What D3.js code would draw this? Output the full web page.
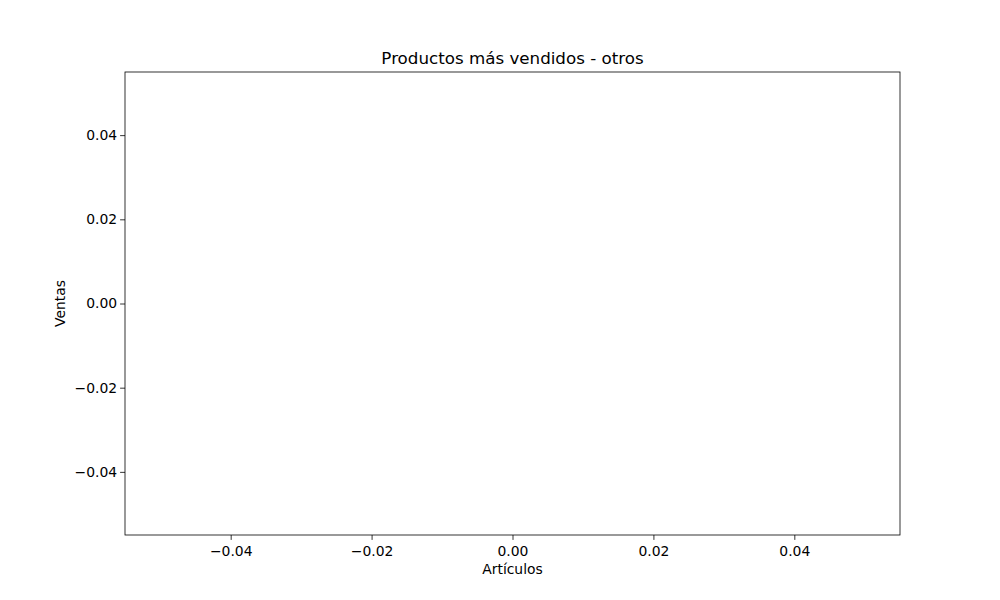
<!DOCTYPE html>
<html><head><meta charset="utf-8">
<script src="https://cdn.jsdelivr.net/npm/d3@7"></script>
<style>body{margin:0;background:#fff}text{font-family:"DejaVu Sans",sans-serif}</style>
</head><body>
<svg id="c" width="1000" height="600"></svg>
<script>
const categories = [];
const values = [];
const xTicks = [-0.04, -0.02, 0.00, 0.02, 0.04];
const yTicks = [-0.04, -0.02, 0.00, 0.02, 0.04];
const title = "Productos más vendidos - otros";
const xLabel = "Artículos";
const yLabel = "Ventas";

const svg = d3.select("#c");
const m = {l:125, r:900, t:72, b:535};
const x = d3.scaleLinear().domain([-0.055,0.055]).range([m.l,m.r]);
const y = d3.scaleLinear().domain([-0.055,0.055]).range([m.b,m.t]);
const fmt = v => d3.format(".2f")(v).replace("-","\u2212");

const gx = svg.append("g").attr("transform",`translate(0,${m.b})`)
  .call(d3.axisBottom(x).tickValues(xTicks).tickFormat(fmt).tickSize(4.9).tickSizeOuter(0));
const gy = svg.append("g").attr("transform",`translate(${m.l},0)`)
  .call(d3.axisLeft(y).tickValues(yTicks).tickFormat(fmt).tickSize(4.9).tickSizeOuter(0));
[gx,gy].forEach(g=>{g.select(".domain").remove();
  g.selectAll("text").attr("font-size",13.9).attr("fill","#000").style("font-family","DejaVu Sans");
  g.selectAll("line").attr("stroke","#000").attr("stroke-width",0.8);});
gx.selectAll("text").attr("dy","0.95em");

svg.selectAll("rect.bar").data(values).join("rect").attr("class","bar");

svg.append("rect").attr("x",m.l).attr("y",m.t).attr("width",m.r-m.l).attr("height",m.b-m.t)
  .attr("fill","none").attr("stroke","#000").attr("stroke-width",0.8);

svg.append("text").attr("x",(m.l+m.r)/2).attr("y",64).attr("text-anchor","middle")
  .attr("font-size",16.7).text(title);
svg.append("text").attr("x",(m.l+m.r)/2).attr("y",574).attr("text-anchor","middle")
  .attr("font-size",13.9).text(xLabel);
svg.append("text").attr("transform",`translate(65,${(m.t+m.b)/2}) rotate(-90)`).attr("text-anchor","middle")
  .attr("font-size",13.9).text(yLabel);
</script>
</body></html>
